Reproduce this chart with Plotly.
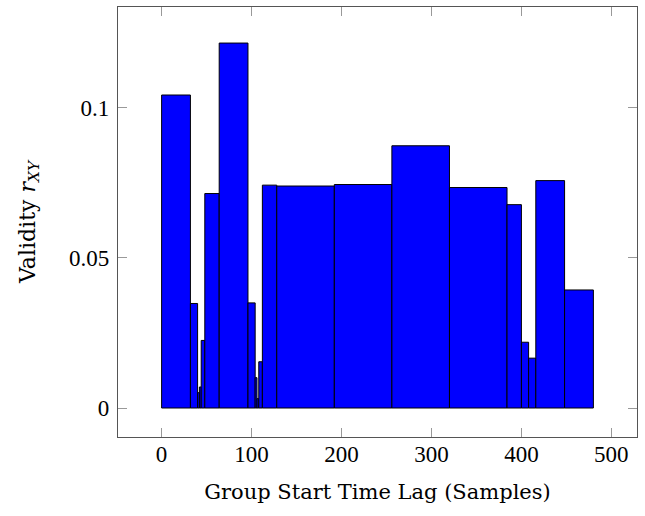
import plotly.graph_objects as go

# Group start lag (samples), group width (samples), validity r_XY
starts = [0, 32, 40, 42, 44, 48, 64, 96, 104, 106, 108, 112, 128, 192, 256, 320, 384, 400, 408, 416, 448]
widths = [32, 8, 2, 2, 4, 16, 32, 8, 2, 2, 4, 16, 64, 64, 64, 64, 16, 8, 8, 32, 32]
validity = [0.1042, 0.0348, 0.0051, 0.0070, 0.0225, 0.0714, 0.1215, 0.0350, 0.0101, 0.0031,
            0.0154, 0.0742, 0.0739, 0.0744, 0.0873, 0.0734, 0.0677, 0.0219, 0.0166, 0.0757, 0.0393]

x_ticks = [0, 100, 200, 300, 400, 500]
y_ticks = [0, 0.05, 0.1]
y_tick_text = ["0", "0.05", "0.1"]

TICK_FONT = "Liberation Serif"
TITLE_FONT = "DejaVu Serif"

fig = go.Figure(go.Bar(
    x=starts, y=validity, width=widths, offset=0,
    marker=dict(color="#0000ff", line=dict(color="black", width=1)),
))

axis_common = dict(
    showline=True, linecolor="#555555", linewidth=1.3, mirror="allticks",
    ticks="inside", ticklen=9, tickcolor="#999999", tickwidth=1,
    showgrid=False, zeroline=False, automargin=False,
    tickfont=dict(family=TICK_FONT, size=23, color="black"),
)

fig.update_layout(
    width=645, height=516,
    margin=dict(l=118, r=8, t=7, b=79),
    plot_bgcolor="white", paper_bgcolor="white",
    showlegend=False,
    xaxis=dict(range=[-48.5, 528.5], tickvals=x_ticks, ticklabelstandoff=-4,
               title=dict(text="Group Start Time Lag (Samples)",
                          font=dict(family=TITLE_FONT, size=21, color="black"), standoff=18),
               **axis_common),
    yaxis=dict(range=[-0.00965, 0.1335], tickvals=y_ticks, ticktext=y_tick_text,
               ticklabelstandoff=3,
               title=dict(text="Validity <i>r</i><sub><i>XY</i></sub>",
                          font=dict(family=TITLE_FONT, size=22, color="black"), standoff=27),
               **axis_common),
)

# remove the browser's default page margin so the figure fills the window
fig.write_html("out.html", config={"displayModeBar": False},
               post_script="document.body.style.margin='0';")
